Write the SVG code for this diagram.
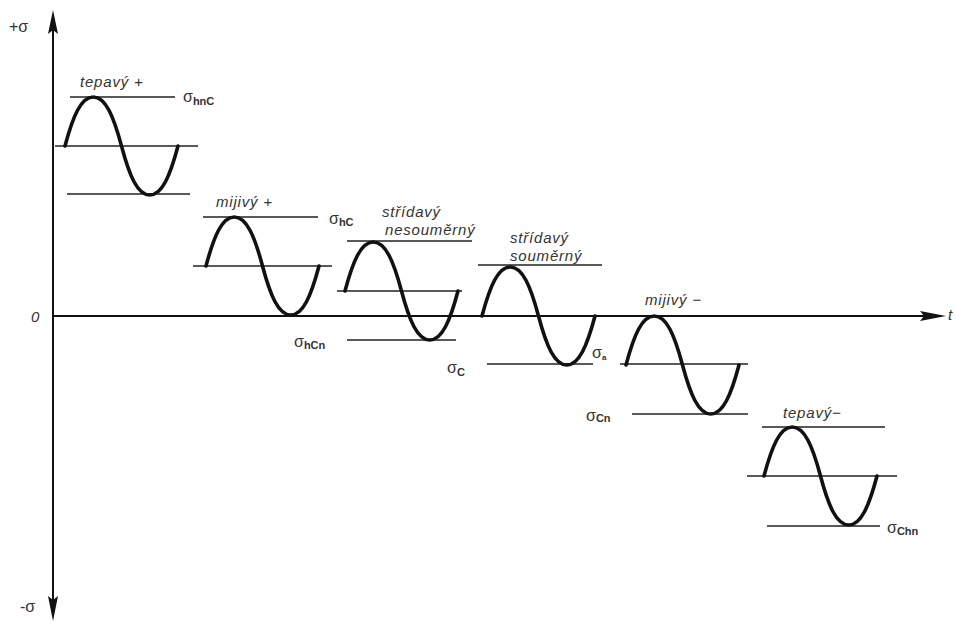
<svg xmlns="http://www.w3.org/2000/svg" xmlns:xlink="http://www.w3.org/1999/xlink" width="956" height="626" viewBox="0 0 956 626">
<style>
.wave{fill:none;stroke:#111;stroke-width:3.6;stroke-linecap:round}
.ln{stroke:#222;stroke-width:1.6;fill:none}
.ax{stroke:#111;stroke-width:2;fill:none}
.lbl{font-family:"Liberation Sans",Arial,sans-serif;font-style:italic;font-size:15px;fill:#333;letter-spacing:0.8px}
.sg{font-family:"Liberation Sans",Arial,sans-serif;font-size:16px;fill:#333}
.sub{font-size:11px;font-weight:bold}
</style>
<defs>
<path id="w" d="M0,0 C8,-30 16,-49 28.25,-49 C40.5,-49 48.5,-30 56.5,0 C64.5,30 72.5,49 84.75,49 C97,49 105,30 113,0"/>
</defs>
<rect width="956" height="626" fill="#fff"/>
<g id="axes">
<line class="ax" x1="53" y1="28" x2="53" y2="604"/>
<polygon points="53,10 48,34 53,30 58,34" fill="#111"/>
<polygon points="53,621 48,596 53,600 58,596" fill="#111"/>
<line class="ax" x1="53" y1="316" x2="928" y2="316"/>
<polygon points="946,316 920,311 924,316 920,321" fill="#111"/>
<text class="lbl" x="948" y="320" font-size="12" style="letter-spacing:0">t</text>
<text class="sg" x="9" y="32" font-size="14">+σ</text>
<text class="lbl" x="31" y="322" font-size="16">0</text>
<text class="sg" x="20" y="612" font-size="14">-σ</text>
</g>
<g id="connectors">
</g>
<g id="n1">
<line class="ln" x1="70" y1="97" x2="175" y2="97"/>
<line class="ln" x1="55" y1="146" x2="198" y2="146"/>
<line class="ln" x1="67" y1="194" x2="190" y2="194"/>
<use href="#w" xlink:href="#w" class="wave" transform="translate(65,146)"/>
<text class="lbl" x="80" y="87">tepavý +</text>
<text class="sg" x="183" y="102">σ<tspan class="sub" dy="3">hnC</tspan></text>
</g>
<g id="n2">
<line class="ln" x1="203" y1="217" x2="318" y2="217"/>
<line class="ln" x1="193" y1="266" x2="332" y2="266"/>
<use href="#w" xlink:href="#w" class="wave" transform="translate(206,266)"/>
<text class="lbl" x="216" y="207">mijivý +</text>
<text class="sg" x="329" y="224">σ<tspan class="sub" dy="2">hC</tspan></text>
<text class="sg" x="294" y="347">σ<tspan class="sub" dy="2">hCn</tspan></text>
</g>
<g id="n3">
<line class="ln" x1="347" y1="241" x2="472" y2="241"/>
<line class="ln" x1="337" y1="291" x2="462" y2="291"/>
<line class="ln" x1="347" y1="340" x2="456" y2="340"/>
<use href="#w" xlink:href="#w" class="wave" transform="translate(345,291)"/>
<text class="lbl" x="382" y="217">střídavý</text>
<text class="lbl" x="385" y="235">nesouměrný</text>
</g>
<g id="n4">
<line class="ln" x1="478" y1="265" x2="602" y2="265"/>
<line class="ln" x1="487" y1="364" x2="593" y2="364"/>
<use href="#w" xlink:href="#w" class="wave" transform="translate(482,316)"/>
<text class="lbl" x="510" y="243">střídavý</text>
<text class="lbl" x="510" y="261">souměrný</text>
<text class="sg" x="447" y="373">σ<tspan class="sub" dy="3">C</tspan></text>
<text class="sg" x="592" y="358" font-size="12">σ<tspan font-size="8" font-weight="bold" dy="2">a</tspan></text>
</g>
<g id="n5">
<line class="ln" x1="620" y1="364" x2="748" y2="364"/>
<line class="ln" x1="632" y1="414" x2="748" y2="414"/>
<use href="#w" xlink:href="#w" class="wave" transform="translate(626,365)"/>
<text class="lbl" x="645" y="305">mijivý −</text>
<text class="sg" x="586" y="421">σ<tspan class="sub" dy="1">Cn</tspan></text>
</g>
<g id="n6">
<line class="ln" x1="762" y1="427" x2="885" y2="427"/>
<line class="ln" x1="747" y1="476" x2="897" y2="476"/>
<line class="ln" x1="767" y1="526" x2="880" y2="526"/>
<use href="#w" xlink:href="#w" class="wave" transform="translate(764,476)"/>
<text class="lbl" x="783" y="418">tepavý−</text>
<text class="sg" x="887" y="533">σ<tspan class="sub" dy="2">Chn</tspan></text>
</g>
</svg>
